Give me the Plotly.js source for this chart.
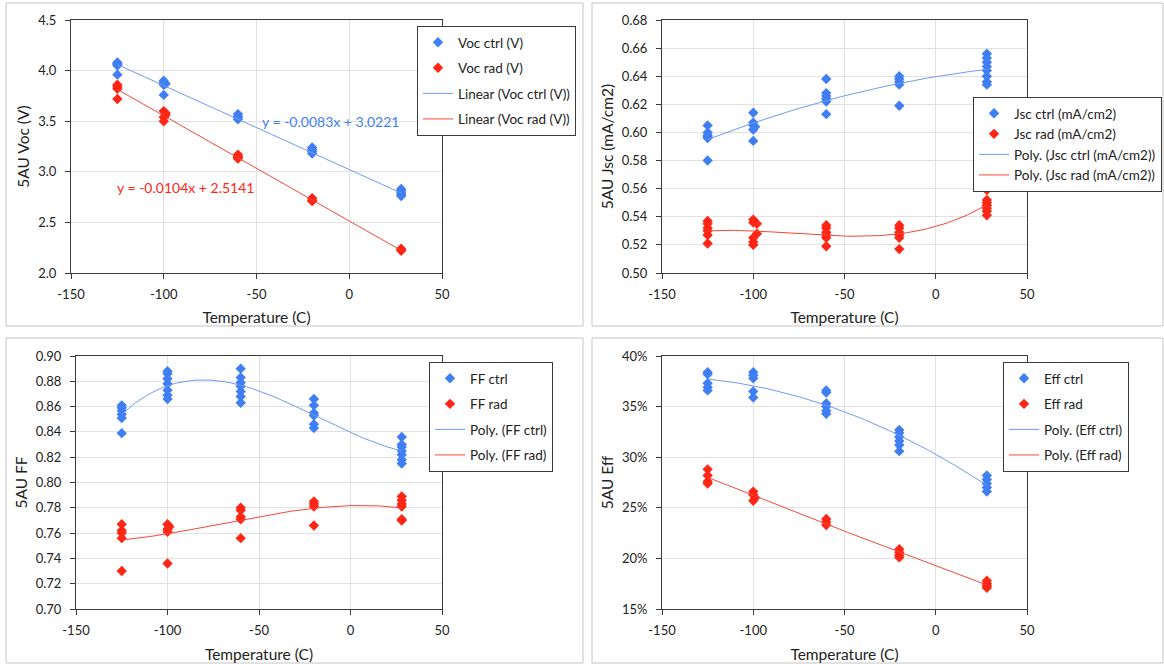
<!DOCTYPE html>
<html>
<head>
<meta charset="utf-8">
<script src="https://cdn.plot.ly/plotly-3.0.1.min.js"></script>
<style>html,body{margin:0;padding:0;background:#fff}#chart{width:1164px;height:664px}</style>
</head>
<body>
<div id="chart"></div>
<script>
// ---------------- DATA ----------------
const xTickVals = [-150, -100, -50, 0, 50];
const xTickText = ['-150', '-100', '-50', '0', '50'];

const vocCtrlT = [-125,-125,-125,-125,-125, -100,-100,-99,-100,-100, -60,-60,-60,-60, -20,-20,-20,-20, 28,28,28,28,28];
const vocCtrl  = [4.08,4.07,4.06,4.05,3.96, 3.90,3.88,3.87,3.86,3.76, 3.57,3.55,3.54,3.52, 3.24,3.22,3.20,3.18, 2.83,2.81,2.79,2.77,2.76];
const vocRadT  = [-125,-125,-125,-125, -100,-99,-99,-100,-100, -60,-60,-60,-60, -20,-20,-20, 28,28,28];
const vocRad   = [3.86,3.84,3.82,3.72, 3.60,3.58,3.56,3.54,3.50, 3.17,3.15,3.14,3.13, 2.74,2.72,2.71, 2.24,2.23,2.22];
const vocCtrlLin = [-0.0083, 3.0221];   // slope, intercept (from chart label)
const vocRadLin  = [-0.0104, 2.5141];

const jscCtrlT = [-125,-125,-125,-125,-125,-125, -100,-100,-100,-99,-100,-100, -60,-60,-60,-60,-60,-60, -20,-20,-20,-20,-20, 28,28,28,28,28,28,28,28];
const jscCtrl  = [0.605,0.600,0.598,0.597,0.596,0.580, 0.614,0.607,0.605,0.604,0.602,0.594, 0.638,0.628,0.626,0.624,0.622,0.613, 0.640,0.638,0.636,0.634,0.619, 0.656,0.653,0.650,0.647,0.644,0.640,0.636,0.634];
const jscRadT  = [-125,-125,-125,-125,-125,-125, -100,-100,-98,-98,-100,-100,-100, -60,-60,-60,-60,-60,-60, -20,-20,-20,-20,-20,-20, 28,28,28,28,28,28,28];
const jscRad   = [0.537,0.535,0.532,0.530,0.527,0.521, 0.538,0.536,0.535,0.528,0.525,0.522,0.520, 0.534,0.532,0.529,0.527,0.525,0.519, 0.534,0.532,0.529,0.527,0.525,0.517, 0.559,0.552,0.550,0.548,0.546,0.544,0.541];

const ffCtrlT = [-125,-125,-125,-125,-125,-125, -100,-100,-100,-100,-100,-100,-100, -60,-60,-60,-60,-60,-60,-60, -20,-20,-20,-20,-20,-20, 28,28,28,28,28,28,28];
const ffCtrl  = [0.861,0.859,0.857,0.854,0.851,0.839, 0.888,0.886,0.882,0.878,0.873,0.869,0.866, 0.890,0.883,0.879,0.876,0.872,0.868,0.863, 0.866,0.861,0.855,0.853,0.846,0.843, 0.836,0.830,0.828,0.825,0.822,0.818,0.815];
const ffRadT  = [-125,-125,-125,-125,-125, -100,-99,-100,-100,-100, -60,-60,-60,-60,-60, -20,-20,-20,-20, 28,28,28,28,28,28];
const ffRad   = [0.767,0.762,0.760,0.756,0.730, 0.767,0.765,0.763,0.761,0.736, 0.780,0.778,0.773,0.771,0.756, 0.785,0.783,0.781,0.766, 0.789,0.786,0.783,0.781,0.771,0.770];

const effCtrlT = [-125,-125,-125,-125,-125, -100,-100,-100,-100,-100, -60,-60,-60,-60,-60,-60, -20,-20,-20,-20,-20,-20, 28,28,28,28,28];
const effCtrl  = [38.4,38.2,37.3,36.9,36.6, 38.4,38.1,37.8,36.5,35.9, 36.6,36.4,35.3,35.0,34.6,34.3, 32.7,32.4,32.0,31.6,31.2,30.6, 28.2,27.8,27.4,27.0,26.6];
const effRadT  = [-125,-125,-125,-125, -100,-100,-99,-100, -60,-60,-60, -20,-20,-20,-20, 28,28,28,28];
const effRad   = [28.8,28.2,27.6,27.4, 26.6,26.3,26.0,25.7, 23.9,23.6,23.3, 20.9,20.6,20.3,20.1, 17.8,17.5,17.3,17.1];

// polynomial trendline orders
const fitOrder = {jscCtrl: 2, jscRad: 3, ffCtrl: 3, ffRad: 3, effCtrl: 2, effRad: 2};

// ---------------- HELPERS ----------------
const W = 1164, H = 664;
const px = v => v / W;
const py = v => 1 - v / H;

function polyfit(xs, ys, n) {
  const m = n + 1;
  const A = Array.from({length: m}, () => new Array(m + 1).fill(0));
  for (let k = 0; k < xs.length; k++) {
    const x = xs[k] / 100, y = ys[k];
    for (let i = 0; i < m; i++) {
      for (let j = 0; j < m; j++) A[i][j] += Math.pow(x, i + j);
      A[i][m] += y * Math.pow(x, i);
    }
  }
  for (let i = 0; i < m; i++) {
    let p = i;
    for (let r = i + 1; r < m; r++) if (Math.abs(A[r][i]) > Math.abs(A[p][i])) p = r;
    [A[i], A[p]] = [A[p], A[i]];
    for (let r = 0; r < m; r++) {
      if (r === i) continue;
      const f = A[r][i] / A[i][i];
      for (let c = i; c <= m; c++) A[r][c] -= f * A[i][c];
    }
  }
  const coef = A.map((row, i) => row[m] / row[i]);
  return x => coef.reduce((s, c, i) => s + c * Math.pow(x / 100, i), 0);
}
function trend(xs, ys, n) {
  const f = polyfit(xs, ys, n);
  const lo = Math.min(...xs), hi = Math.max(...xs);
  const X = [], Y = [];
  for (let i = 0; i <= 80; i++) { const x = lo + (hi - lo) * i / 80; X.push(x); Y.push(f(x)); }
  return {x: X, y: Y};
}
function linLine(xs, c) {
  const lo = Math.min(...xs), hi = Math.max(...xs);
  return {x: [lo, hi], y: [c[0] * lo + c[1], c[0] * hi + c[1]]};
}

const BLUE = '#3f7ef3', RED = '#ff2616';
const BLUE_L = '#6d9cf0', RED_L = '#f4473a';
const FONT = 'Lato, "Open Sans", sans-serif';

function pts(name, x, y, color, xa, ya, lg) {
  return {type: 'scatter', mode: 'markers', name, x, y, xaxis: xa, yaxis: ya, legend: lg, legendgroup: name,
    marker: {symbol: 'diamond', size: 8, color}, hoverinfo: 'x+y'};
}
function line(name, d, color, xa, ya, lg) {
  return {type: 'scatter', mode: 'lines', name, x: d.x, y: d.y, xaxis: xa, yaxis: ya, legend: lg, legendgroup: name,
    line: {color, width: 1}, hoverinfo: 'skip'};
}

const traces = [
  pts('Voc ctrl (V)', vocCtrlT, vocCtrl, BLUE, 'x', 'y', 'legend'),
  pts('Voc rad (V)', vocRadT, vocRad, RED, 'x', 'y', 'legend'),
  line('Linear (Voc ctrl (V))', linLine(vocCtrlT, vocCtrlLin), BLUE_L, 'x', 'y', 'legend'),
  line('Linear (Voc rad (V))', linLine(vocRadT, vocRadLin), RED_L, 'x', 'y', 'legend'),

  pts('Jsc ctrl (mA/cm2)', jscCtrlT, jscCtrl, BLUE, 'x2', 'y2', 'legend2'),
  pts('Jsc rad (mA/cm2)', jscRadT, jscRad, RED, 'x2', 'y2', 'legend2'),
  line('Poly. (Jsc ctrl (mA/cm2))', trend(jscCtrlT, jscCtrl, fitOrder.jscCtrl), BLUE_L, 'x2', 'y2', 'legend2'),
  line('Poly. (Jsc rad (mA/cm2))', trend(jscRadT, jscRad, fitOrder.jscRad), RED_L, 'x2', 'y2', 'legend2'),

  pts('FF ctrl', ffCtrlT, ffCtrl, BLUE, 'x3', 'y3', 'legend3'),
  pts('FF rad', ffRadT, ffRad, RED, 'x3', 'y3', 'legend3'),
  line('Poly. (FF ctrl)', trend(ffCtrlT, ffCtrl, fitOrder.ffCtrl), BLUE_L, 'x3', 'y3', 'legend3'),
  line('Poly. (FF rad)', trend(ffRadT, ffRad, fitOrder.ffRad), RED_L, 'x3', 'y3', 'legend3'),

  pts('Eff ctrl', effCtrlT, effCtrl, BLUE, 'x4', 'y4', 'legend4'),
  pts('Eff rad', effRadT, effRad, RED, 'x4', 'y4', 'legend4'),
  line('Poly. (Eff ctrl)', trend(effCtrlT, effCtrl, fitOrder.effCtrl), BLUE_L, 'x4', 'y4', 'legend4'),
  line('Poly. (Eff rad)', trend(effRadT, effRad, fitOrder.effRad), RED_L, 'x4', 'y4', 'legend4'),
];

const axBase = {
  showline: true, mirror: true, linecolor: '#3a3a3a', linewidth: 1,
  showgrid: true, gridcolor: '#e2e2e2', gridwidth: 1, zeroline: false,
  ticks: 'outside', ticklen: 5, tickcolor: '#3a3a3a', tickwidth: 1,
  tickfont: {family: FONT, size: 13, color: '#222'}, fixedrange: true
};
const TITLE_FONT = {family: FONT, size: 15.5, color: '#222'};
function xAx(domain, anchor, standoff) {
  return Object.assign({}, axBase, {domain, anchor, range: [-150, 50], tickmode: 'array',
    tickvals: xTickVals, ticktext: xTickText, ticklabelstandoff: 4,
    title: {text: 'Temperature (C)', font: TITLE_FONT, standoff}});
}
function yAx(domain, anchor, range, dtick, title, fmt, suffix) {
  return Object.assign({}, axBase, {domain, anchor, range, dtick, tick0: range[0], tickformat: fmt,
    ticksuffix: suffix || '', ticklabelstandoff: 6,
    title: {text: title, font: TITLE_FONT, standoff: 4}});
}

const topD = [py(273), py(20)], botD = [py(609), py(356)];
const leftD1 = [px(71), px(442)], rightD = [px(662), px(1027)], leftD3 = [px(76), px(442)];

function legendAt(x, y, gap, size) {
  return {x: px(x), y: py(y), xanchor: 'left', yanchor: 'top', bgcolor: '#fff', bordercolor: '#3a3a3a',
    borderwidth: 1, font: {family: FONT, size: size, color: '#222'}, traceorder: 'grouped', tracegroupgap: gap,
    itemwidth: 30};
}
function frame(x0, y0, x1, y1) {
  return {type: 'rect', xref: 'paper', yref: 'paper', x0: px(x0), x1: px(x1), y0: py(y1), y1: py(y0),
    line: {color: '#c4c4c4', width: 1}, fillcolor: 'rgba(0,0,0,0)', layer: 'below'};
}

const layout = {
  width: W, height: H, margin: {l: 0, r: 0, t: 0, b: 0}, paper_bgcolor: '#fff', plot_bgcolor: '#fff',
  font: {family: FONT, size: 13, color: '#222'},
  showlegend: true,
  xaxis: xAx(leftD1, 'y', 11),
  yaxis: yAx(topD, 'x', [2.0, 4.5], 0.5, '5AU Voc (V)', '.1f'),
  xaxis2: xAx(rightD, 'y2', 11),
  yaxis2: yAx(topD, 'x2', [0.5, 0.68], 0.02, '5AU Jsc (mA/cm2)', '.2f'),
  xaxis3: xAx(leftD3, 'y3', 12),
  yaxis3: yAx(botD, 'x3', [0.7, 0.9], 0.02, '5AU FF', '.2f'),
  xaxis4: xAx(rightD, 'y4', 12),
  yaxis4: yAx(botD, 'x4', [15, 40], 5, '5AU Eff', 'd', '%'),
  legend: legendAt(417, 26, 5, 13.5),
  legend2: legendAt(973, 97, 0, 13.5),
  legend3: legendAt(429, 362, 5, 13.5),
  legend4: legendAt(1003, 362, 5, 13.5),
  shapes: [frame(6, 3, 583, 326), frame(592, 3, 1163, 326), frame(6, 338, 583, 663), frame(592, 338, 1163, 663)],
  annotations: [
    {xref: 'x', yref: 'y', x: -48, y: 3.50, xanchor: 'left', yanchor: 'middle', showarrow: false,
      text: 'y = -0.0083x + 3.0221', font: {family: FONT, size: 14, color: BLUE}},
    {xref: 'x', yref: 'y', x: -126.5, y: 2.84, xanchor: 'left', yanchor: 'middle', showarrow: false,
      text: 'y = -0.0104x + 2.5141', font: {family: FONT, size: 14, color: RED}}
  ]
};

Plotly.newPlot('chart', traces, layout, {displayModeBar: false, staticPlot: true});
</script>
</body>
</html>
